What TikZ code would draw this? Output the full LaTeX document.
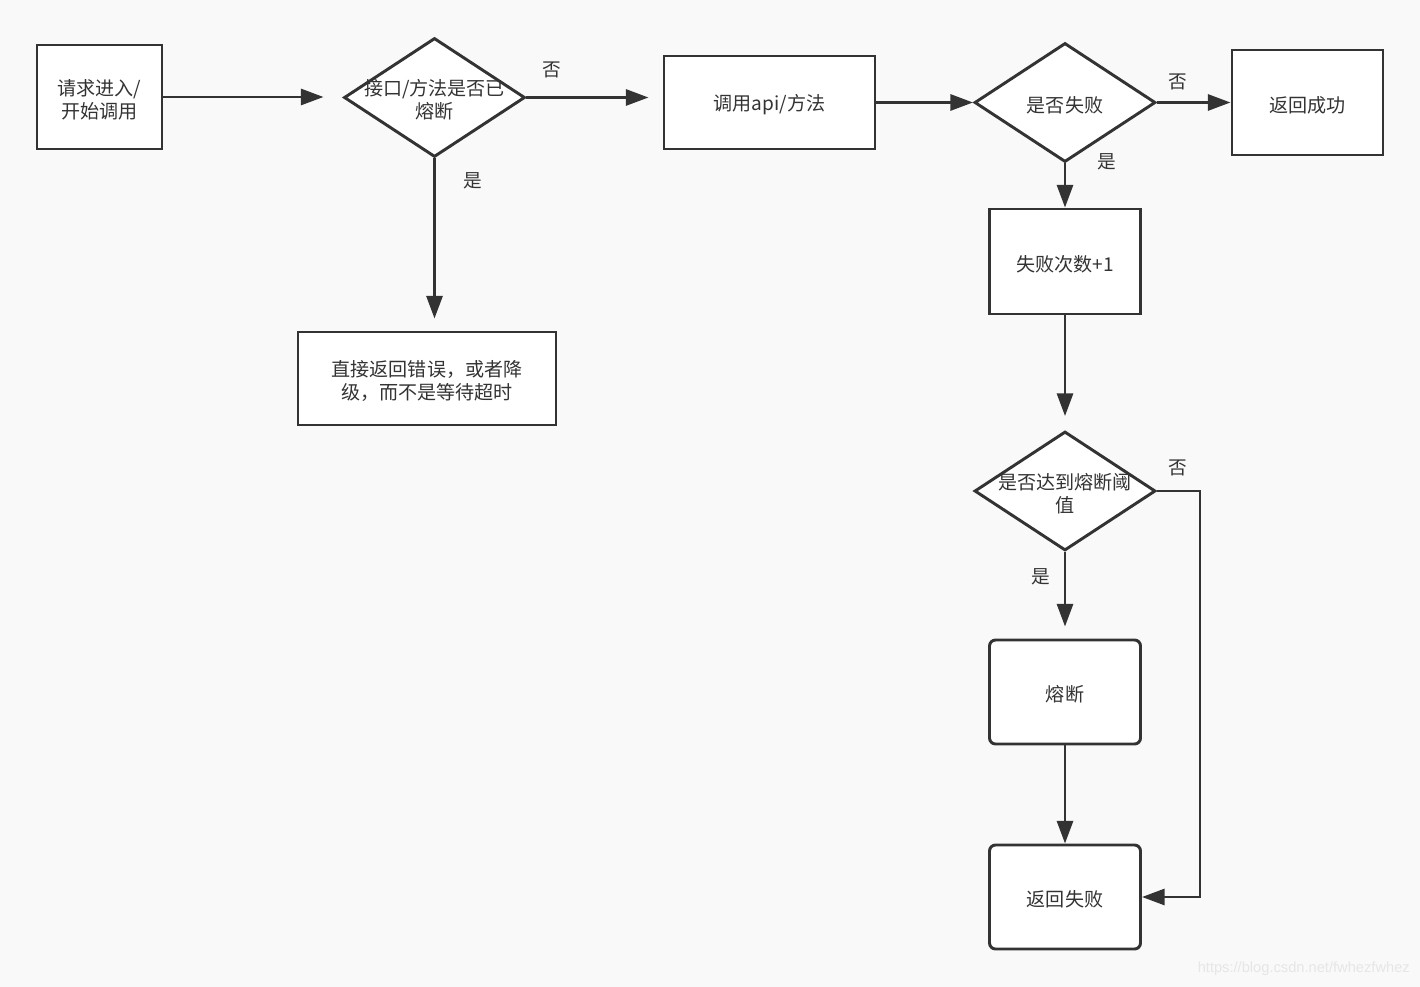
\documentclass[tikz,border=0pt]{standalone}
\usepackage{fontspec}
\setmainfont{Noto Sans CJK SC}
\newfontfamily\wmfont{Liberation Sans}
\usetikzlibrary{shapes.geometric,arrows.meta,positioning}
\definecolor{bg}{HTML}{F9F9F9}
\definecolor{ink}{HTML}{333333}
\definecolor{wm}{HTML}{E6E6E6}
\tikzset{
  base/.style={draw=ink, line width=2.2pt, fill=white, inner sep=0pt, text=ink, align=center},
  boxn/.style={base, rectangle, minimum width=#1},
  rbox/.style={base, rectangle, rounded corners=4.5pt, minimum width=151*0.75pt, minimum height=104*0.75pt},
  dia/.style={base, diamond, minimum width=181*0.75pt, minimum height=119*0.75pt},
  dtext/.style={text=ink, font=\fontsize{14.3}{17.2}\selectfont, align=center, inner sep=0pt, yshift=-1.8pt},
  conn/.style={draw=ink, line width=2.2pt, -{Triangle[length=17pt,width=12pt]}},
  lbl/.style={text=ink, font=\fontsize{14}{17}\selectfont, inner sep=0pt},
}
\begin{document}
\begin{tikzpicture}[x=0.75pt,y=-0.75pt]
\fill[bg] (0,0) rectangle (1420,987);
\useasboundingbox (0,0) rectangle (1420,987);

\node[boxn=125*0.75pt, minimum height=104*0.75pt, label={[dtext]center:请求进入/\\开始调用}] (a) at (99.5,97) {};
\node[dia, label={[dtext]center:接口/方法是否已\\熔断}] (d1) at (434.5,97.5) {};
\node[boxn=258*0.75pt, minimum height=93*0.75pt, label={[dtext]center:直接返回错误，或者降\\级，而不是等待超时}] (c) at (427,378.5) {};
\node[boxn=211*0.75pt, minimum height=93*0.75pt, label={[dtext]center:调用api/方法}] (b) at (769.5,102.5) {};
\node[dia, label={[dtext]center:是否失败}] (d2) at (1065,102.5) {};
\node[boxn=151*0.75pt, minimum height=105*0.75pt, label={[dtext]center:返回成功}] (e) at (1307.5,102.5) {};
\node[boxn=151*0.75pt, minimum height=105*0.75pt, label={[dtext]center:失败次数+1}] (f) at (1065,261.5) {};
\node[dia, label={[dtext]center:是否达到熔断阈\\值}] (d3) at (1065,491) {};
\node[rbox, label={[dtext]center:熔断}] (g) at (1065,692) {};
\node[rbox, label={[dtext]center:返回失败}] (h) at (1065,897) {};

\draw[conn, shorten >=14.25pt] (a.east) -- (a.east -| d1.west);
\draw[conn, shorten >=10.5pt] (d1.east) -- (d1.east -| b.west);
\draw[conn, shorten >=9pt] (d1.south) -- (d1.south |- c.north);
\draw[conn] (b.east |- d2.west) -- (d2.west);
\draw[conn] (d2.east) -- (e.west |- d2.east);
\draw[conn] (d2.south) -- (f.north);
\draw[conn, shorten >=10.5pt] (f.south) -- (d3.north);
\draw[conn, shorten >=9pt] (d3.south) -- (g.north);
\draw[conn] (g.south) -- (h.north);
\coordinate (k1) at (1200,491);
\draw[conn] (d3.east) -- (k1) |- (h.east);

\node[lbl] (l1) at (552,70) {否};
\node[lbl] (l2) at (473,181) {是};
\node[lbl] (l3) at (1178,82) {否};
\node[lbl] (l4) at (1107,162) {是};
\node[lbl] (l5) at (1178,468) {否};
\node[lbl] (l6) at (1041,577) {是};

\node[text=wm, font=\wmfont\fontsize{11}{13}\selectfont, anchor=east, inner sep=0pt] (w) at (1410,969) {https://blog.csdn.net/fwhezfwhez};
\end{tikzpicture}
\end{document}
